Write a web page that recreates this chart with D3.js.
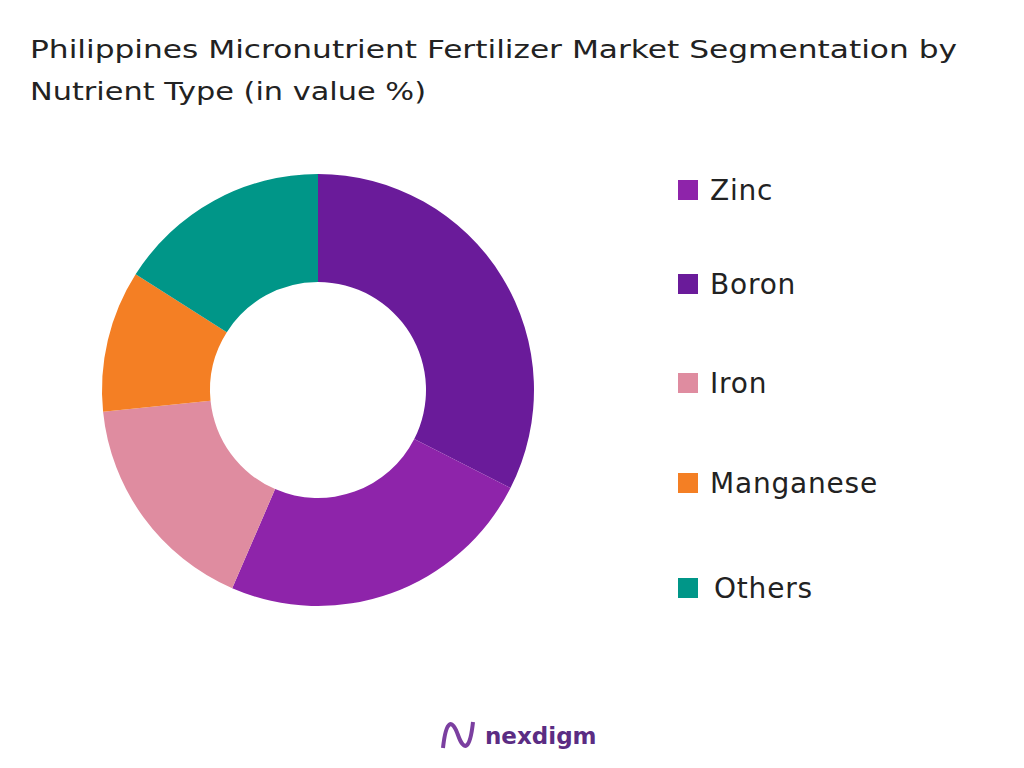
<!DOCTYPE html>
<html><head><meta charset="utf-8">
<script src="https://cdn.jsdelivr.net/npm/d3@7"></script>
<style>body{margin:0;background:#fff}text{font-family:"DejaVu Sans",sans-serif}</style>
</head><body>
<svg id="chart" width="1024" height="768"></svg>
<script>
const categories = ["Boron", "Zinc", "Iron", "Manganese", "Others"];
const values = [32.5, 24.0, 16.9, 10.6, 16.0];
const legendOrder = ["Zinc", "Boron", "Iron", "Manganese", "Others"];
const legendY = [190, 284, 383, 483, 588];
const colors = {Zinc: "#8E24AA", Boron: "#6A1B9A", Iron: "#DF8CA0", Manganese: "#F47F24", Others: "#009688"};

const svg = d3.select("#chart");

svg.append("text").attr("x", 30).attr("y", 58).attr("font-size", 25).attr("fill", "#222")
  .attr("textLength", 927).attr("lengthAdjust", "spacingAndGlyphs")
  .text("Philippines Micronutrient Fertilizer Market Segmentation by");
svg.append("text").attr("x", 30).attr("y", 100).attr("font-size", 25).attr("fill", "#222")
  .attr("textLength", 396).attr("lengthAdjust", "spacingAndGlyphs")
  .text("Nutrient Type (in value %)");

let pie = d3.pie().sort(null).value(d => d[1]);
let arc = d3.arc().innerRadius(108).outerRadius(216);
let g = svg.append("g").attr("transform", "translate(318,390)");
g.selectAll("path")
  .data(pie(categories.map((c, i) => [c, values[i]])))
  .enter().append("path")
  .attr("d", arc)
  .attr("fill", d => colors[d.data[0]]);

let lg = svg.append("g");
legendOrder.forEach((name, i) => {
  lg.append("rect").attr("x", 678).attr("y", legendY[i] - 10).attr("width", 20).attr("height", 20)
    .attr("fill", colors[name]);
  lg.append("text").attr("x", name === "Others" ? 714 : 710).attr("y", legendY[i] + 10)
    .attr("font-size", 28).attr("letter-spacing", 0.8).attr("fill", "#222").text(name);
});

// footer logo
let logo = svg.append("g");
logo.append("path").attr("d", "M443,748 C446,720 452,718 458,735 C464,752 470,750 473,722")
  .attr("fill", "none").attr("stroke", "#7B3FA0").attr("stroke-width", 4);
logo.append("text").attr("x", 485).attr("y", 744).attr("font-size", 23).attr("font-weight", "bold")
  .attr("fill", "#5B2C83").text("nexdigm");
</script>
</body></html>
